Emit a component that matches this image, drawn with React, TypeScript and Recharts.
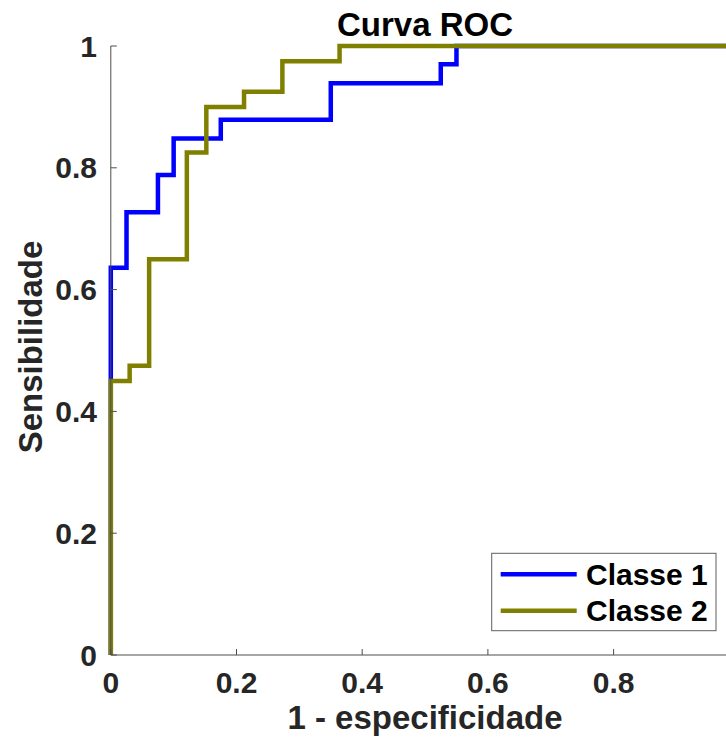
import { LineChart, Line, XAxis, YAxis } from "recharts";

// ROC steps: false positive rate where each jump happens, and the sensitivity reached there
const class1Fpr = [0, 0.025, 0.075, 0.1, 0.175, 0.35, 0.525, 0.55];
const class1Tpr = [0.636, 0.727, 0.788, 0.848, 0.879, 0.939, 0.97, 1];
const class2Fpr = [0, 0.03, 0.061, 0.121, 0.152, 0.212, 0.273, 0.364];
const class2Tpr = [0.45, 0.475, 0.65, 0.825, 0.9, 0.925, 0.975, 1];

const xTicks = [0, 0.2, 0.4, 0.6, 0.8];
const yTicks = [0, 0.2, 0.4, 0.6, 0.8, 1];
const seriesNames = ["Classe 1", "Classe 2"];
const seriesColors = ["#0000FF", "#808000"];

const FONT = "'Liberation Sans', Arial, Helvetica, sans-serif";
const AXIS_COLOR = "#4d4d4d";
const TEXT_COLOR = "#262626";
const X_GAP = 16.5;
const Y_GAP = 13.8;

// turn the step list into the corner points of the staircase
function staircase(fpr: number[], tpr: number[]) {
  const pts = [{ fpr: 0, tpr: 0 }];
  let level = 0;
  fpr.forEach((x, i) => {
    pts.push({ fpr: x, tpr: level });
    level = tpr[i];
    pts.push({ fpr: x, tpr: level });
  });
  pts.push({ fpr: 1, tpr: level });
  return pts;
}

const curves = [staircase(class1Fpr, class1Tpr), staircase(class2Fpr, class2Tpr)];

const fmt = (v: number) => (v === 0 || v === 1 ? String(v) : v.toFixed(1));

function XTick({ x, y, payload }: any) {
  const axisY = y - X_GAP;
  return (
    <g>
      <line x1={x} x2={x} y1={axisY} y2={axisY - 6} stroke={AXIS_COLOR} />
      <text
        x={x}
        y={y}
        dy="0.71em"
        textAnchor="middle"
        fill={TEXT_COLOR}
        fontFamily={FONT}
        fontWeight="bold"
        fontSize={30}
      >
        {fmt(payload.value)}
      </text>
    </g>
  );
}

function YTick({ x, y, payload }: any) {
  const axisX = x + Y_GAP;
  return (
    <g>
      <line x1={axisX} x2={axisX + 6} y1={y} y2={y} stroke={AXIS_COLOR} />
      <text
        x={x}
        y={y}
        dy="0.355em"
        textAnchor="end"
        fill={TEXT_COLOR}
        fontFamily={FONT}
        fontWeight="bold"
        fontSize={30}
      >
        {fmt(payload.value)}
      </text>
    </g>
  );
}

function Annotations() {
  return (
    <svg
      width={726}
      height={738}
      style={{ position: "absolute", left: 0, top: 0, pointerEvents: "none" }}
    >
      <g fontFamily={FONT} fontWeight="bold">
        <text x={425} y={36} textAnchor="middle" fontSize={33} fill="#000">
          Curva ROC
        </text>
        <text x={425} y={729} textAnchor="middle" fontSize={33} fill={TEXT_COLOR}>
          1 - especificidade
        </text>
        <text
          transform="translate(42,347) rotate(-90)"
          textAnchor="middle"
          fontSize={33}
          fill={TEXT_COLOR}
        >
          Sensibilidade
        </text>
        <g transform="translate(491.7,553.3)">
          <rect x={0} y={0} width={224.3} height={77.4} fill="#fff" stroke="#5f5f5f" />
          {seriesNames.map((name, i) => (
            <g key={name} transform={`translate(0,${21 + i * 36.4})`}>
              <line x1={9} x2={85} y1={0} y2={0} stroke={seriesColors[i]} strokeWidth={4.5} />
              <text x={94.3} y={10.7} fontSize={30} fill="#000">
                {name}
              </text>
            </g>
          ))}
        </g>
      </g>
    </svg>
  );
}

export default function App() {
  return (
    <div
      style={{
        position: "absolute",
        left: 0,
        top: 0,
        width: 726,
        height: 738,
        overflow: "hidden",
        background: "#fff",
      }}
    >
      <LineChart
        width={760}
        height={738}
        margin={{ top: 46, right: 20.7, bottom: 53, left: 50.8 }}
      >
        <XAxis
          type="number"
          dataKey="fpr"
          domain={[0, 1]}
          ticks={xTicks}
          interval={0}
          height={30}
          tickSize={0}
          tickMargin={X_GAP}
          axisLine={{ stroke: AXIS_COLOR }}
          tick={<XTick />}
        />
        <YAxis
          type="number"
          dataKey="tpr"
          domain={[0, 1]}
          ticks={yTicks}
          interval={0}
          width={60}
          tickSize={0}
          tickMargin={Y_GAP}
          axisLine={{ stroke: AXIS_COLOR }}
          tick={<YTick />}
        />
        {curves.map((pts, i) => (
          <Line
            key={seriesNames[i]}
            data={pts}
            dataKey="tpr"
            name={seriesNames[i]}
            type="linear"
            stroke={seriesColors[i]}
            strokeWidth={4.5}
            dot={false}
            activeDot={false}
            isAnimationActive={false}
          />
        ))}
      </LineChart>
      <Annotations />
    </div>
  );
}
